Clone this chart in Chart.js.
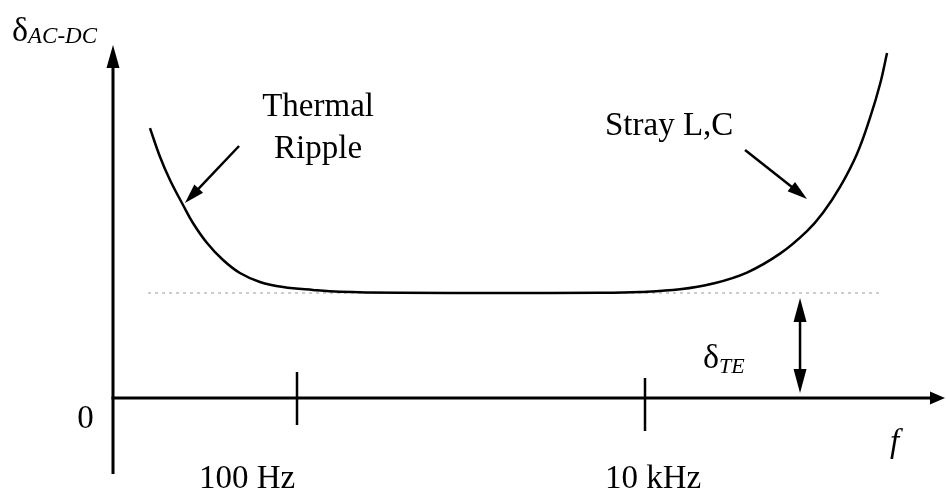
<!DOCTYPE html>
<html>
<head>
<meta charset="utf-8">
<script src="https://cdn.jsdelivr.net/npm/chart.js@4.4.1/dist/chart.umd.min.js"></script>
<style>
    html, body { margin: 0; padding: 0; background: #ffffff; }
    #wrap { width: 946px; height: 491px; position: relative; }
</style>
</head>
<body>
<div id="wrap"><canvas id="acdcChart"></canvas></div>
<script>
// x = log10(frequency / Hz), y = AC-DC difference in units of the thermoelement error
const logFreq = [1.155, 1.213, 1.270, 1.345, 1.402, 1.483, 1.575, 1.672, 1.787, 1.920, 2.092, 2.247, 2.592,
    3.167, 3.741, 3.971, 4.201, 4.391, 4.586, 4.776, 4.931, 5.023, 5.121, 5.218, 5.293, 5.351, 5.391];
const deltaAcDc = [2.571, 2.295, 2.076, 1.838, 1.667, 1.476, 1.314, 1.190, 1.105, 1.057, 1.029, 1.012, 1.002,
    1.000, 1.002, 1.010, 1.035, 1.090, 1.195, 1.375, 1.590, 1.765, 2.010, 2.324, 2.667, 2.990, 3.286];
const deltaTE = 1;
const teLineX = [1.144, 5.345];
const tickValues = [2, 4];
const tickLabels = ['100 Hz', '10 kHz'];

const SERIF = "'Liberation Serif', 'Times New Roman', serif";

function arrowHead(ctx, x0, y0, x1, y1, len, half) {
    const a = Math.atan2(y1 - y0, x1 - x0);
    const c = Math.cos(a), s = Math.sin(a);
    ctx.beginPath();
    ctx.moveTo(x1, y1);
    ctx.lineTo(x1 - len * c + half * s, y1 - len * s - half * c);
    ctx.lineTo(x1 - len * c - half * s, y1 - len * s + half * c);
    ctx.closePath();
    ctx.fill();
}

function arrow(ctx, x0, y0, x1, y1, len, half, width) {
    const a = Math.atan2(y1 - y0, x1 - x0);
    ctx.lineWidth = width;
    ctx.beginPath();
    ctx.moveTo(x0, y0);
    ctx.lineTo(x1 - len * 0.7 * Math.cos(a), y1 - len * 0.7 * Math.sin(a));
    ctx.stroke();
    arrowHead(ctx, x0, y0, x1, y1, len, half);
}

// text with an italic subscript after a greek delta
function deltaLabel(ctx, x, y, sub, bigSize, subSize, subDrop) {
    ctx.textAlign = 'left';
    ctx.font = `${bigSize}px ${SERIF}`;
    ctx.fillText('\u03b4', x, y);
    const w = ctx.measureText('\u03b4').width;
    ctx.font = `italic ${subSize}px ${SERIF}`;
    ctx.fillText(sub, x + w, y + subDrop);
}

const schematic = {
    id: 'schematic',
    afterDraw(chart) {
        const ctx = chart.ctx;
        const xs = chart.scales.x, ys = chart.scales.y;
        const area = chart.chartArea;
        const px = v => xs.getPixelForValue(v);
        const py = v => ys.getPixelForValue(v);
        const y0 = py(0);

        ctx.save();
        ctx.strokeStyle = '#000';
        ctx.fillStyle = '#000';
        ctx.lineCap = 'butt';

        // y axis with arrow
        arrow(ctx, area.left, area.bottom, area.left, area.top, 23, 6.5, 3);
        // x axis with arrow
        arrow(ctx, area.left - 1.5, y0, area.right + 1, y0, 15, 6.5, 3);

        // tick marks
        ctx.lineWidth = 2.5;
        tickValues.forEach((v, i) => {
            const off = i === 0 ? -26 : -20;
            ctx.beginPath();
            ctx.moveTo(px(v), y0 + off);
            ctx.lineTo(px(v), y0 + off + 53);
            ctx.stroke();
        });

        // pointer arrows
        arrow(ctx, px(1.667), py(2.40), px(1.356), py(1.857), 20, 6, 2.5);
        arrow(ctx, px(4.575), py(2.362), px(4.931), py(1.895), 20, 6, 2.5);

        // thermoelement error double arrow
        const xTE = px(4.891);
        const top = py(deltaTE) + 5, bot = y0 - 5;
        ctx.lineWidth = 2.5;
        ctx.beginPath();
        ctx.moveTo(xTE, top + 15);
        ctx.lineTo(xTE, bot - 15);
        ctx.stroke();
        arrowHead(ctx, xTE, bot, xTE, top, 24, 6.5);
        arrowHead(ctx, xTE, top, xTE, bot, 24, 6.5);

        // texts
        ctx.textBaseline = 'alphabetic';
        deltaLabel(ctx, 12, 41, 'AC-DC', 34, 23, 2);
        deltaLabel(ctx, px(4.333), py(0.286), 'TE', 34, 22, 5);

        ctx.font = `33px ${SERIF}`;
        ctx.textAlign = 'center';
        ctx.fillText('0', px(0.7845), py(-0.286));
        const labelX = [1.713, 4.046];
        tickLabels.forEach((t, i) => ctx.fillText(t, px(labelX[i]), py(-0.857)));
        ctx.fillText('Thermal', px(2.121), py(2.686));
        ctx.fillText('Ripple', px(2.121), py(2.286));
        ctx.textAlign = 'left';
        ctx.fillText('Stray L,C', px(3.770), py(2.505));
        ctx.font = `italic 33px ${SERIF}`;
        ctx.fillText('f', px(5.408), py(-0.514));
        ctx.restore();
    }
};

const ctx = document.getElementById('acdcChart').getContext('2d');
const acdcChart = new Chart(ctx, {
    type: 'line',
    data: {
        datasets: [{
            data: logFreq.map((x, i) => ({ x: x, y: deltaAcDc[i] })),
            borderColor: '#000000',
            borderWidth: 2.5,
            pointRadius: 0,
            tension: 0.4,
            fill: false
        }, {
            data: teLineX.map(x => ({ x: x, y: deltaTE })),
            borderColor: '#9a9a9a',
            borderWidth: 1,
            borderDash: [3, 4],
            pointRadius: 0,
            fill: false
        }]
    },
    options: {
        responsive: true,
        maintainAspectRatio: false,
        animation: false,
        layout: {
            padding: { left: 113, right: 2, top: 45, bottom: 17 }
        },
        plugins: {
            legend: { display: false },
            tooltip: { enabled: false }
        },
        scales: {
            x: { type: 'linear', min: 0.9425, max: 5.7184, display: false },
            y: { min: -0.7238, max: 3.3619, display: false }
        }
    },
    plugins: [schematic]
});
</script>
</body>
</html>
